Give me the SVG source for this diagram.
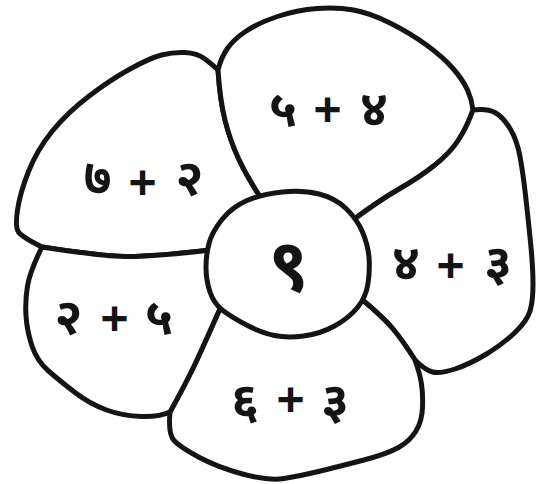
<svg xmlns="http://www.w3.org/2000/svg" width="542" height="484" viewBox="0 0 542 484">
<style>
.petal{fill:#fff;stroke:#141414;stroke-width:5;stroke-linejoin:round;stroke-linecap:round}
.d{font-family:"Noto Sans Devanagari","Lohit Devanagari","Noto Sans",sans-serif;font-size:50px;font-weight:bold;fill:#141414;text-anchor:middle}
.p{font-family:"Liberation Sans",Arial,sans-serif;font-weight:bold;font-size:48px;fill:#141414;text-anchor:middle}
</style>
<rect width="542" height="484" fill="#fff"/>
<g id="petal-top-left">
<path class="petal" d="M218,70 Q213,65 205,59 Q197,53 185,52.5 Q173,52 161.5,55 Q150,58 130,69 Q110,80 88.5,96.5 Q67,113 52,131.5 Q37,150 28.5,171.5 Q20,193 17.5,210 Q15,227 18.5,232 Q22,237 42,247 Q100,256 125,256.5 Q150,257 211,250 L280,262 L261,198 Q247,177 238.5,158.5 Q230,140 225,120 Q220,100 218,70 Z"/>
<text class="d" y="195"><tspan x="97.5">७</tspan><tspan x="189.5">२</tspan></text>
<text class="p" x="142.5" y="199">+</text>
</g>
<g id="petal-top">
<path class="petal" d="M218,70 Q221,58 227,49 Q233,40 245.5,31.5 Q258,23 277.5,16.5 Q297,10 317,8.5 Q337,7 353.5,10 Q370,13 390,23 Q410,33 426.5,45 Q443,57 453,68.5 Q463,80 467.5,90 Q472,100 473,110 Q467,127 458.5,140 Q450,153 435,165 Q420,177 400,188.5 Q380,200 353,220 L290,262 L261,198 Q247,177 238.5,158.5 Q230,140 225,120 Q220,100 218,70 Z"/>
<text class="d" y="126"><tspan x="283">५</tspan><tspan x="374">४</tspan></text>
<text class="p" x="327.5" y="126">+</text>
</g>
<g id="petal-right">
<path class="petal" d="M473,110 Q487,108 495,112.5 Q503,117 510,128.5 Q517,140 520,156.5 Q523,173 525.5,195 Q528,217 530.5,242 Q533,267 533,284 Q533,301 530,311 Q527,321 515,332.5 Q503,344 486.5,354 Q470,364 455,369 Q440,374 432.5,372 Q425,370 415,360 Q403,341 393,329 Q383,317 360,298 L290,262 L353,220 Q380,200 400,188.5 Q420,177 435,165 Q450,153 458.5,140 Q467,127 473,110 Z"/>
<text class="d" y="280"><tspan x="406">४</tspan><tspan x="498">३</tspan></text>
<text class="p" x="450.5" y="281.5">+</text>
</g>
<g id="petal-bottom">
<path class="petal" d="M170,412 Q168,434 174,440.5 Q180,447 198.5,457 Q217,467 242.5,474 Q268,481 284,478.5 Q300,476 318.5,471.5 Q337,467 362,460.5 Q387,454 398.5,447.5 Q410,441 416,431 Q422,421 422.5,407.5 Q423,394 421.5,384 Q420,374 415,360 Q403,341 393,329 Q383,317 360,298 L290,262 L222,304 Q203,347 195,364 Q187,381 170,412 Z"/>
<text class="d" y="418"><tspan x="245">६</tspan><tspan x="335">३</tspan></text>
<text class="p" x="290.5" y="416">+</text>
</g>
<g id="petal-left">
<path class="petal" d="M42,247 Q30,271 27.5,286 Q25,301 26,316 Q27,331 32,346 Q37,361 48.5,371 Q60,381 75,392.5 Q90,404 106.5,410 Q123,416 141.5,416.5 Q160,417 170,412 Q187,381 195,364 Q203,347 222,304 L280,262 L211,250 Q150,257 125,256.5 Q100,256 42,247 Z"/>
<text class="d" y="334"><tspan x="68.5">२</tspan><tspan x="159">५</tspan></text>
<text class="p" x="114.5" y="334.5">+</text>
</g>
<g id="center">
<path class="petal" d="M206,267.5 Q206,255 209,243.5 Q212,232 222,219.5 Q232,207 247,200.5 Q262,194 282.5,192 Q303,190 319,194 Q335,198 346,208.5 Q357,219 362.5,232 Q368,245 369,257.5 Q370,270 368,283.5 Q366,297 357.5,307.5 Q349,318 334.5,326 Q320,334 303.5,336 Q287,338 274.5,335.5 Q262,333 247.5,325.5 Q233,318 223.5,311 Q214,304 210,292 Q206,280 206,267.5 Z"/>
<text class="d" x="289" y="290" style="font-size:72px">९</text>
</g>
<g id="connectors"/>
</svg>
